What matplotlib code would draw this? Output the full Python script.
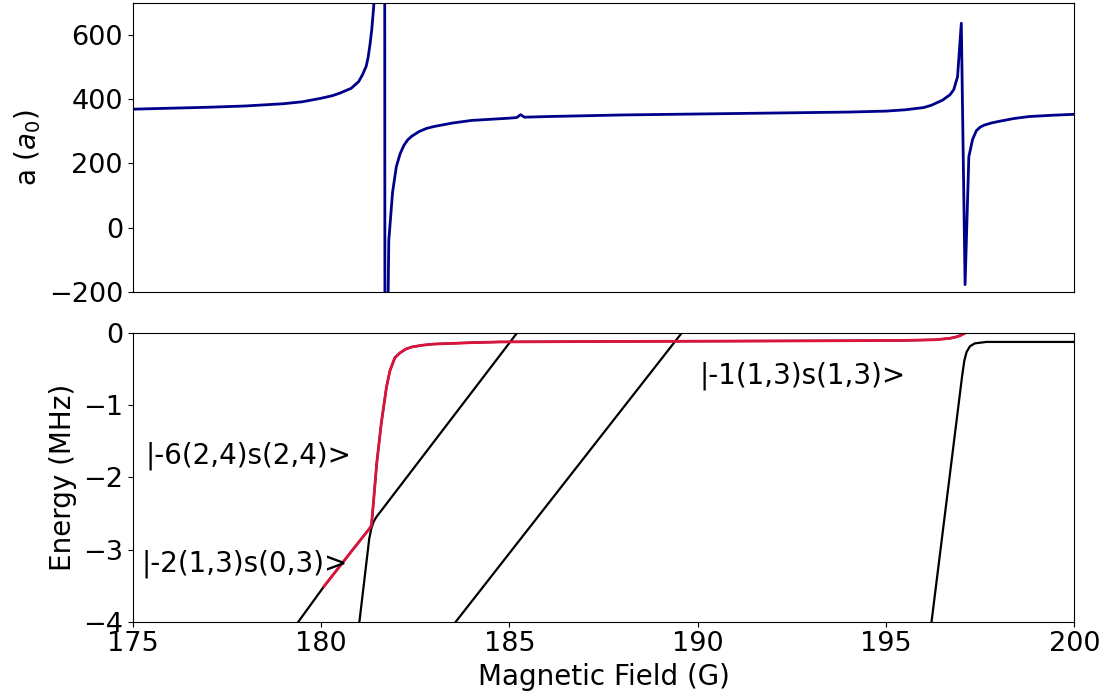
import matplotlib.pyplot as plt

# scattering length vs field
field_a = [175.0, 176.0, 177.0, 178.0, 179.0, 179.5, 180.0, 180.3, 180.5, 180.8,
           181.0, 181.1, 181.2, 181.25, 181.3, 181.35, 181.4, 181.5, 181.6, 181.7,
           181.8, 181.9, 182.0, 182.1, 182.2, 182.3, 182.4, 182.6, 182.8, 183.0,
           183.5, 184.0, 185.0, 185.2, 185.3, 185.4, 186.0, 188.0, 190.0, 192.0,
           194.0, 195.0, 195.5, 196.0, 196.2, 196.5, 196.7, 196.8, 196.9, 197.0,
           197.1, 197.2, 197.3, 197.4, 197.5, 197.6, 197.8, 198.0, 198.4, 198.8,
           199.4, 200.0]
scat_len = [369, 372, 375, 379, 386, 392, 403, 411, 419, 434,
            455, 476, 503, 530, 570, 620, 690, 1200, 20000, -1000,
            -40, 110, 190, 230, 256, 273, 284, 299, 309, 315,
            326, 334, 341, 343, 352, 344, 346, 351, 354, 357,
            360, 363, 367, 374, 381, 397, 414, 430, 470, 637,
            -178, 221, 275, 302, 313, 319, 326, 331, 340, 346,
            350, 353]

# lowest dressed level (tracked state is highlighted from 180.08 G)
lev1_B = [179.40, 180.08, 180.80, 181.30, 181.34, 181.40, 181.48, 181.60, 181.74,
          181.83, 181.96, 182.10, 182.25, 182.41, 182.70, 182.98, 184.00, 184.75,
          187.0, 190.0, 193.0, 195.4, 196.3, 196.7, 196.87, 196.98, 197.09]
lev1_E = [-4.00, -3.51, -3.03, -2.70, -2.66, -2.30, -1.80, -1.25, -0.74,
          -0.52, -0.34, -0.27, -0.22, -0.19, -0.165, -0.15, -0.13, -0.12,
          -0.115, -0.11, -0.105, -0.10, -0.09, -0.07, -0.05, -0.03, 0.0]
track_start = 1

# upper branch of the avoided crossing
lev2_B = [181.02, 181.28, 181.34, 181.40, 181.48, 181.60, 185.30]
lev2_E = [-4.00, -2.85, -2.70, -2.61, -2.54, -2.46, 0.07]

# |-1(1,3)s(1,3)> crossing
lev3_B = [183.58, 189.57]
lev3_E = [-4.00, 0.00]

# second resonance level
lev4_B = [196.21, 197.02, 197.08, 197.14, 197.23, 197.36, 197.67, 198.5, 200.0]
lev4_E = [-4.00, -0.60, -0.38, -0.26, -0.18, -0.14, -0.12, -0.12, -0.12]

labels = ['|-6(2,4)s(2,4)>', '|-2(1,3)s(0,3)>', '|-1(1,3)s(1,3)>']
label_B = [175.33, 175.24, 190.06]
label_E = [-1.70, -3.20, -0.59]

plt.rcParams['font.size'] = 20

fig = plt.figure(figsize=(11.15, 7), dpi=100)
ax1 = fig.add_axes([0.119, 0.5833, 0.8445, 0.4124])
ax2 = fig.add_axes([0.119, 0.1119, 0.8445, 0.412])

ax1.plot(field_a, scat_len, color='darkblue', lw=2)
ax1.set_xlim(175, 200)
ax1.set_ylim(-200, 700)
ax1.set_yticks([-200, 0, 200, 400, 600])
ax1.tick_params(bottom=False, labelbottom=False, labelsize=19.5)
ax1.set_ylabel('a ($a_0$)')

for B, E in [(lev1_B, lev1_E), (lev2_B, lev2_E), (lev3_B, lev3_E), (lev4_B, lev4_E)]:
    ax2.plot(B, E, color='black', lw=1.6)
ax2.plot(lev1_B[track_start:], lev1_E[track_start:], color='crimson', lw=2)

for txt, B, E in zip(labels, label_B, label_E):
    ax2.text(B, E, txt, ha='left', va='center', fontsize=20)

ax2.set_xlim(175, 200)
ax2.set_ylim(-4, 0)
ax2.set_xticks([175, 180, 185, 190, 195, 200])
ax2.set_yticks([-4, -3, -2, -1, 0])
ax2.tick_params(labelsize=19.5)
ax2.set_xlabel('Magnetic Field (G)')
ax2.set_ylabel('Energy (MHz)')

plt.savefig('out.png', dpi=100)
